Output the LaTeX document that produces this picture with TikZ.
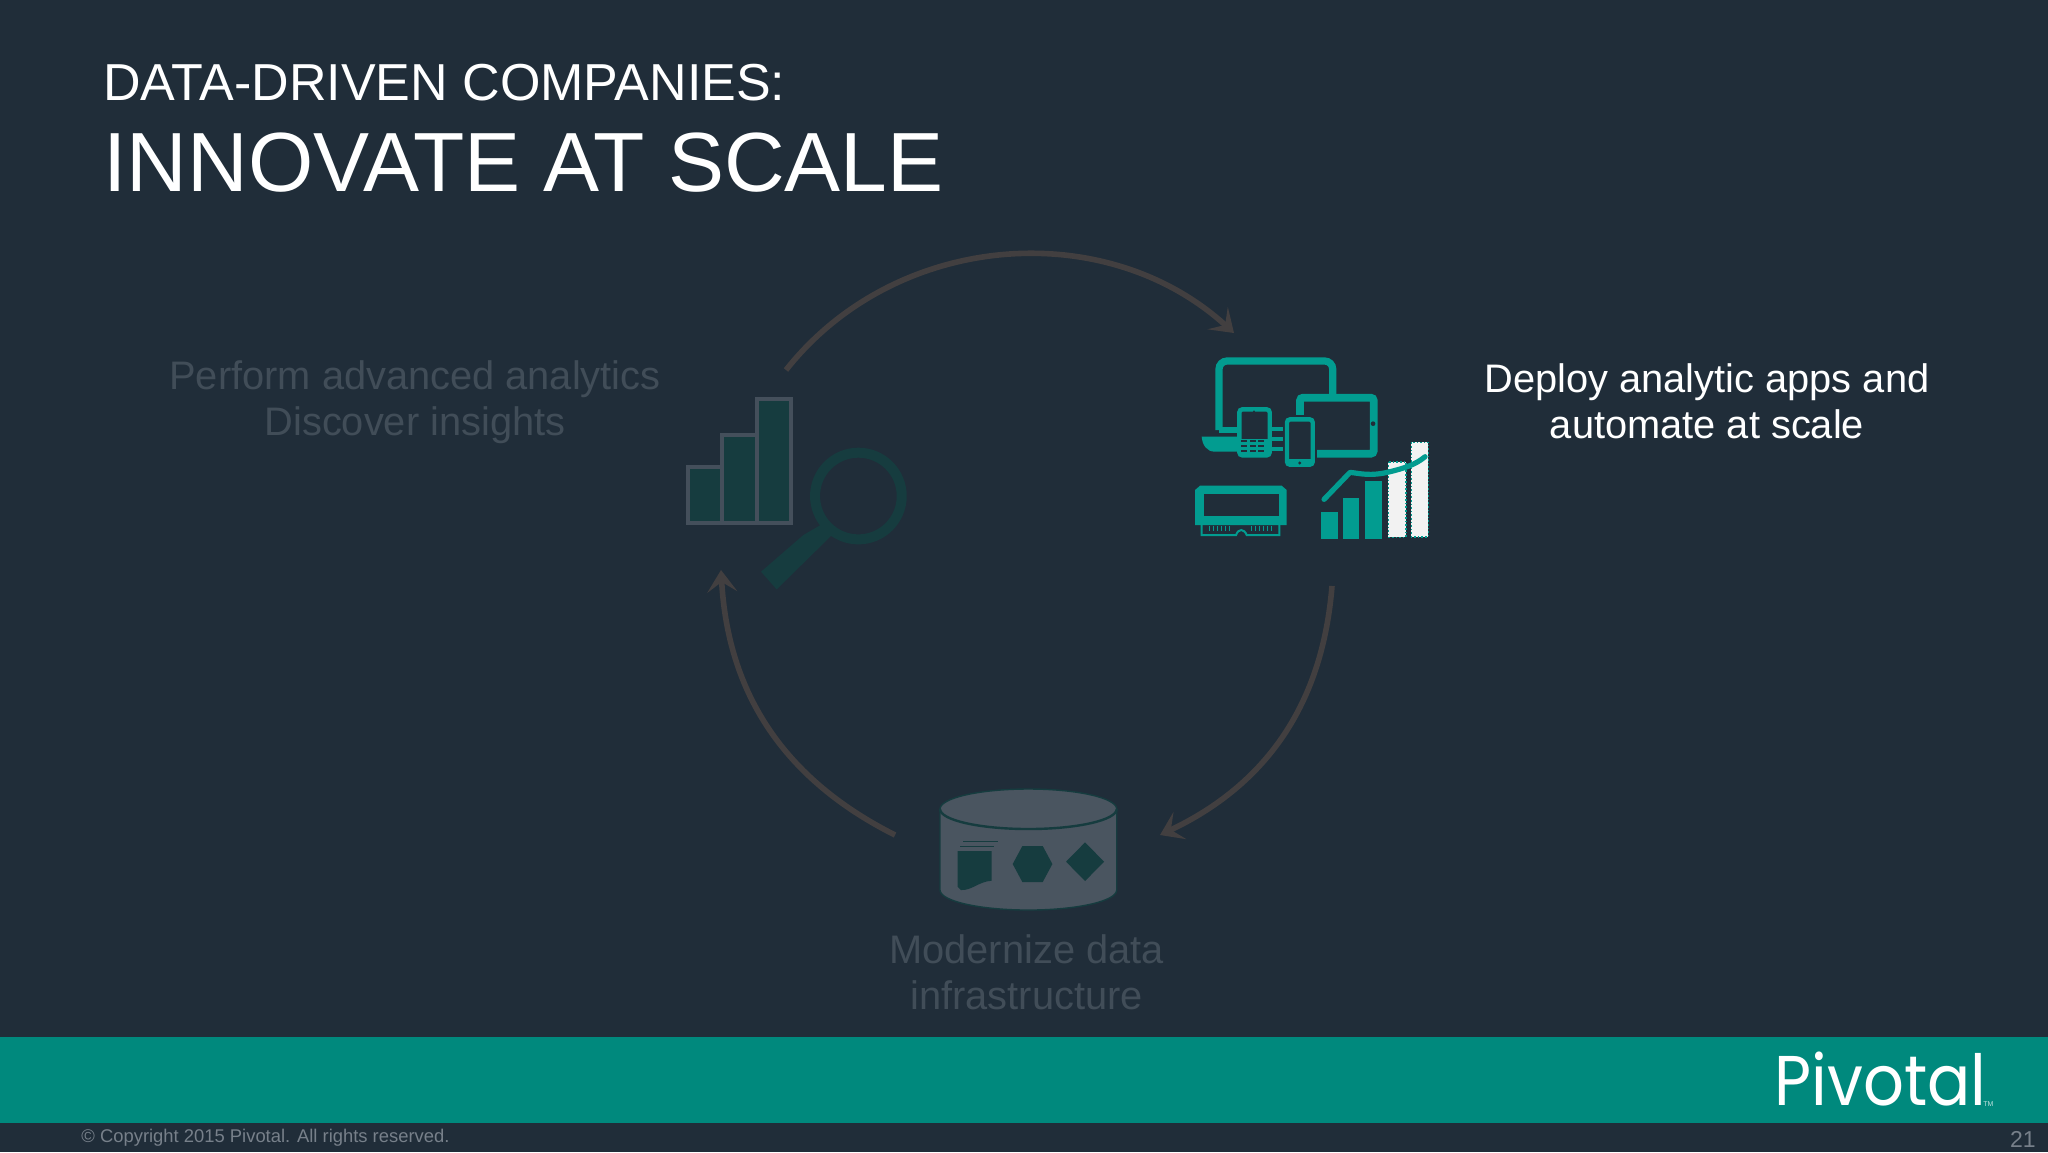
\documentclass[tikz,border=0pt]{standalone}
\usepackage{fontspec}
\setmainfont{Liberation Sans}
\newfontfamily\logofont{Poppins}
\usetikzlibrary{arrows.meta}
\definecolor{bgc}{HTML}{202D39}
\definecolor{band}{HTML}{00897D}
\definecolor{teal}{HTML}{029C90}
\definecolor{ftext}{HTML}{414D58}
\definecolor{arcc}{HTML}{423F40}
\definecolor{fteal}{HTML}{163C3F}
\definecolor{fgrey}{HTML}{444F5B}
\definecolor{fgreyb}{HTML}{4A5560}
\definecolor{copyc}{HTML}{77808A}
\tikzset{
  x=0.5pt,y=-0.5pt,
  lbl/.style={anchor=base,inner sep=0pt,font=\fontsize{19.9}{24}\selectfont},
  arcline/.style={draw=arcc,line width=2.8pt,-{Stealth[length=11pt,width=15pt,inset=5pt]}},
  wbar/.style={fill=white!95!black,draw=teal,line width=0.8pt,densely dotted},
}
\begin{document}
\begin{tikzpicture}
\useasboundingbox (0,0) rectangle (2048,1152);
\fill[bgc] (0,0) rectangle (2048,1152);
\fill[band] (0,1037) rectangle (2048,1123);
% titles
\node[anchor=base west,inner sep=0pt,text=white,font=\fontsize{26}{30}\selectfont] (t1) at (103,100) {DATA-DRIVEN COMPANIES:};
\node[anchor=base west,inner sep=0pt,text=white,font=\fontsize{42}{48}\selectfont] (t2) at (103,191) {INNOVATE AT SCALE};
% labels
\node[lbl,text=ftext] (a1) at (415,389) {Perform advanced analytics};
\node[lbl,text=ftext] (a2) at (415,435) {Discover insights};
\node[lbl,text=white] (d1) at (1707,392) {Deploy analytic apps and};
\node[lbl,text=white] (d2) at (1707,438) {automate at scale};
\node[lbl,text=ftext] (m1) at (1026.5,963) {Modernize data};
\node[lbl,text=ftext] (m2) at (1026.5,1009) {infrastructure};
\node[anchor=base west,inner sep=0pt,text=copyc,font=\fontsize{9.2}{11}\selectfont] (c) at (81,1142) {© Copyright 2015 Pivotal. All rights reserved.};
\node[anchor=base east,inner sep=0pt,text=copyc,font=\fontsize{11.5}{13}\selectfont] (pg) at (2036,1147) {21};
\node[anchor=base west,inner sep=0pt,text=white,font=\logofont\fontsize{32}{36}\selectfont,yscale=1.1,transform shape] (logo) at (1774,1105) {Pivotal};
\node[anchor=base west,inner sep=0pt,text=white!75!band,font=\fontsize{3.5}{4}\selectfont] (tm) at (1983,1106) {TM};
% arcs
\coordinate (p1) at (786,370);
\coordinate (p2) at (1234,333);
\coordinate (p3) at (1332,586);
\coordinate (p4) at (1160,835);
\coordinate (p5) at (895,835);
\coordinate (p6) at (721,570);
\draw[arcline] (p1) to[bend left=47] (p2);
\draw[arcline] (p3) to[bend left=30] (p4);
\draw[arcline] (p5) to[bend left=30] (p6);
% chart + magnifier (faded)
\begin{scope}[shift={(660,380)},x=0.1667pt,y=-0.1667pt]
  \draw[fill=fteal,draw=fgrey,line width=2pt] (85,260) rectangle (187,428);
  \draw[fill=fteal,draw=fgrey,line width=2pt] (187,165) rectangle (292,428);
  \draw[fill=fteal,draw=fgrey,line width=2pt] (292,58) rectangle (393,428);
  \draw[fteal,line width=5pt] (595,348) circle (130);
  \fill[fteal] (490,430) -- (515,465) -- (470,510) -- (350,628) -- (303,575) -- (430,465) -- cycle;
\end{scope}
% cylinder (faded)
\begin{scope}[shift={(900,770)},x=0.1667pt,y=-0.1667pt]
  \draw[fill=fgreyb,draw=fteal,line width=0.7pt] (120,117) -- (120,360) arc[start angle=180,end angle=360,x radius=265,y radius=-60] -- (650,117) arc[start angle=0,end angle=180,x radius=265,y radius=-60] -- cycle;
  \draw[fteal,line width=1.2pt] (120,117) arc[start angle=180,end angle=360,x radius=265,y radius=-60];
  \draw[fteal,line width=0.5pt] (190,215) -- (293,215);
  \draw[fteal,line width=0.7pt] (180,230) -- (282,230);
  \fill[fteal] (173,243) -- (275,243) -- (275,332) .. controls (235,335) and (215,362) .. (183,360) -- (173,350) -- cycle;
  \fill[fteal] (338,282) -- (367,228) -- (428,228) -- (457,282) -- (428,336) -- (367,336) -- cycle;
  \fill[fteal] (555,217) -- (612,275) -- (555,333) -- (498,275) -- cycle;
\end{scope}
% devices
\begin{scope}[shift={(1170,340)},x=0.1667pt,y=-0.1667pt]
  % laptop
  \draw[teal,line width=3.6pt,rounded corners=4pt,fill=bgc] (147,270) -- (147,63) -- (488,63) -- (488,270);
  \fill[teal] (95,290) -- (205,290) -- (205,335) -- (135,335) .. controls (110,335) and (97,315) .. (95,290) -- cycle;
  \foreach \yy in {262,290,320} \fill[teal] (300,\yy) rectangle (350,\yy+12);
  \fill[teal] (147,262) rectangle (205,278);
  % tablet
  \draw[teal,line width=3.9pt,rounded corners=1.5pt,fill=bgc] (390,173) rectangle (611,341);
  \fill[bgc] (609,251) circle (7);
  % phone 1
  \draw[teal,line width=2.2pt,rounded corners=1.5pt,fill=bgc] (208,208) rectangle (299,346);
  \fill[teal] (214,296) rectangle (293,346);
  \foreach \xx in {222,248,274}\foreach \yy in {304,318,332} \fill[bgc] (\xx-9,\yy-3) rectangle (\xx+9,\yy+3);
  \fill[bgc] (252,214) circle (3);
  % phone 2
  \draw[bgc,line width=1pt] (341,228) rectangle (437,384);
  \draw[teal,line width=2.2pt,rounded corners=1.5pt,fill=bgc] (351,238) rectangle (428,374);
  \fill[teal] (351,358) rectangle (428,374);
  \fill[bgc] (389,369) circle (5);
  % memory
  \fill[teal] (90,437) -- (335,437) -- (350,450) -- (350,555) -- (75,555) -- (75,450) -- cycle;
  \fill[bgc] (102,462) rectangle (328,528);
  \draw[teal,line width=1pt] (95,555) -- (95,585) -- (198,585) .. controls (205,565) and (222,565) .. (230,585) -- (328,585) -- (328,555);
  \foreach \xx in {118,130,142,154,166,178,245,257,269,281,293,305} \draw[teal,line width=0.7pt] (\xx,557) -- (\xx,572);
  % chart
  \fill[teal] (452,517) rectangle (503,597);
  \fill[teal] (520,473) rectangle (568,597);
  \fill[teal] (586,422) rectangle (636,597);
  \draw[wbar] (655,365) rectangle (707,592);
  \draw[wbar] (724,307) rectangle (775,590);
  \draw[teal,line width=2.6pt,line cap=round,line join=round] (462,478) -- (540,397) .. controls (570,400) and (600,410) .. (660,395) .. controls (700,385) and (735,375) .. (765,350);
\end{scope}
\end{tikzpicture}
\end{document}
